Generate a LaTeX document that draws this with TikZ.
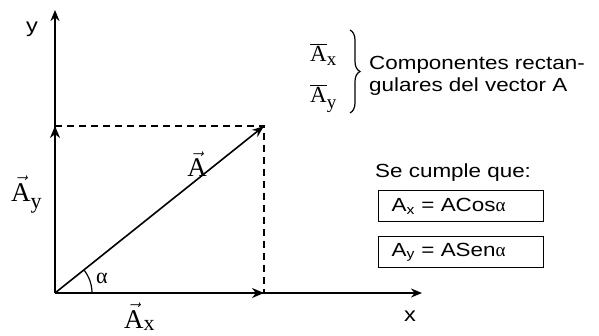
\documentclass[tikz,border=0pt]{standalone}
\usepackage{fontspec}
\setmainfont{Liberation Sans}[FakeStretch=1.18]
\newfontfamily\serif{Liberation Serif}
\usetikzlibrary{arrows.meta,decorations.pathreplacing}
\begin{document}
\begin{tikzpicture}[x=1pt,y=-1pt,
  axis/.style={line width=2.4pt,-{Stealth[length=11pt,width=9pt]}},
  comp/.style={line width=2.4pt,-{Stealth[length=12pt,width=10pt]}},
  vecline/.style={line width=1.6pt,-{Stealth[length=12pt,width=9pt]}},
  dashline/.style={line width=1.6pt,dash pattern=on 7pt off 5pt},
  vlab/.style={inner sep=0pt,font=\fontsize{27}{27}\selectfont\serif},
  blab/.style={inner sep=0pt,font=\fontsize{23}{23}\selectfont\serif},
  sans/.style={inner sep=0pt,font=\fontsize{19}{22}\selectfont},
  eqbox/.style={draw,line width=1.4pt,inner xsep=13pt,inner ysep=0pt,
    text width=139pt,minimum height=31pt,align=left,anchor=north west,
    font=\fontsize{19}{22}\selectfont}]
\useasboundingbox (0,0) rectangle (599,335);
% points
\coordinate (O) at (55,293);
\coordinate (ytop) at (55,10);
\coordinate (xend) at (422,293);
\coordinate (P) at (264,126);
\coordinate (Py) at (55,126);
\coordinate (Px) at (264,293);
% dashed projections
\draw[dashline] (Py) -- (P) -- (Px);
% axes
\draw[axis] (O) -- (ytop);
\draw[axis] (O) -- (xend);
% components
\draw[comp] (O) -- (Py);
\draw[comp] (O) -- (Px);
% vector
\draw[vecline] (O) -- (P);
% angle
\draw[line width=1.2pt] ([xshift=37pt]O) arc[start angle=0,end angle=38.6,radius=37pt];
\node[inner sep=0pt,font=\fontsize{22}{22}\selectfont\serif] (alpha) at (102,278) {α};
% axis labels
\node[sans,font=\fontsize{20}{20}\selectfont] (ylab) at (32,29) {y};
\node[sans,font=\fontsize{20}{20}\selectfont] (xlab) at (410,316) {x};
% vector labels
\node[vlab] (Alab) at (197,164) {$\vec{\hbox{\serif A}}$};
\node[vlab,anchor=base west] (Aylab) at (11,201) {$\vec{\hbox{\serif A}}$\raisebox{-7pt}{\fontsize{22}{22}\selectfont y}};
\node[vlab,anchor=base west] (Axlab) at (124,328) {$\vec{\hbox{\serif A}}$\raisebox{-2pt}{\fontsize{22}{22}\selectfont x}};
% top right
\node[blab,anchor=base west] (Axbar) at (310,61) {$\overline{\hbox{\serif A}}$\raisebox{-4pt}{\fontsize{19}{19}\selectfont x}};
\node[blab,anchor=base west] (Aybar) at (310,102) {$\overline{\hbox{\serif A}}$\raisebox{-6pt}{\fontsize{19}{19}\selectfont y}};
\draw[line width=1.2pt,decorate,decoration={brace,amplitude=10pt}] (350,30) -- (350,113);
\node[sans,align=left,anchor=north west] (comptext) at (369,56) {Componentes rectan-\\gulares del vector A};
% relations
\node[sans,anchor=base west] (cumple) at (375,177) {Se cumple que:};
\node[eqbox] (eq1) at (378,190) {A\textsubscript{x} = ACos{\serif α}};
\node[eqbox] (eq2) at (378,236) {A\textsubscript{y} = ASen{\serif α}};
\end{tikzpicture}
\end{document}
